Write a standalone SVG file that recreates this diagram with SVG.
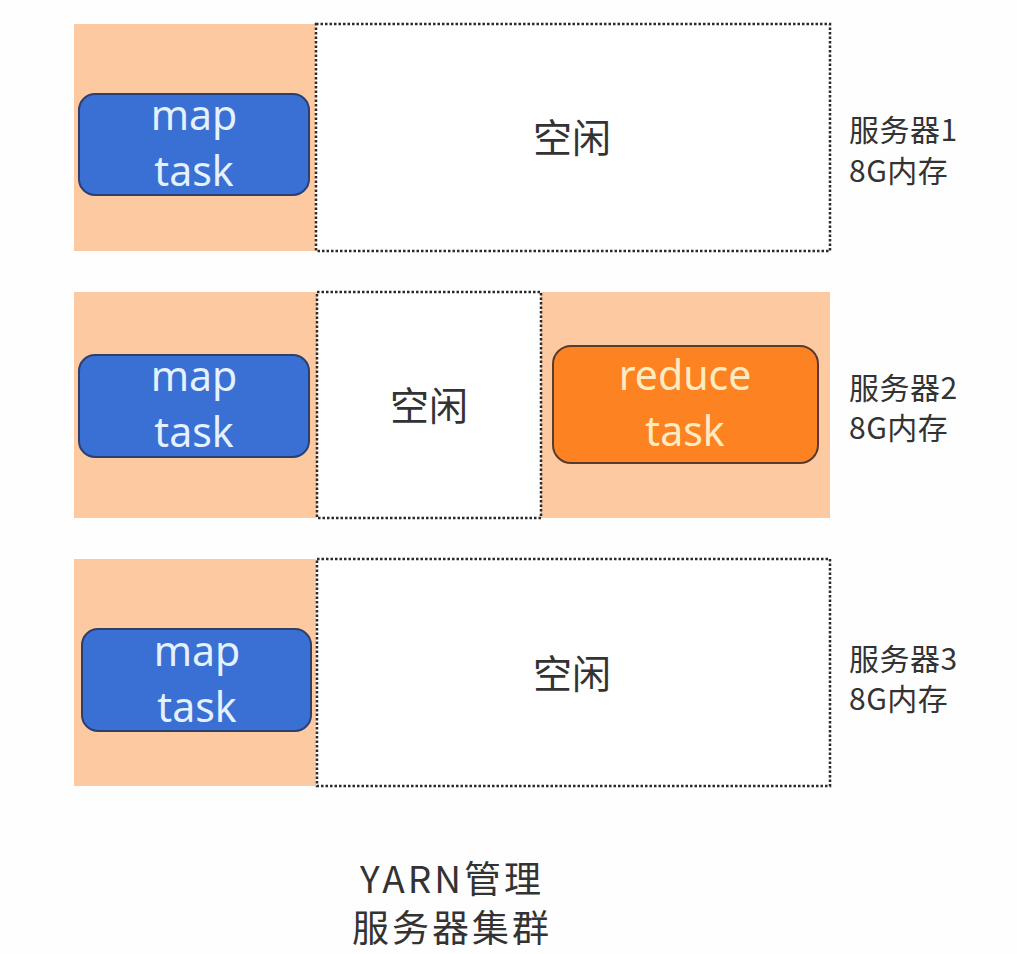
<svg xmlns="http://www.w3.org/2000/svg" width="1017" height="954" viewBox="0 0 1017 954">
<style>
.bg{fill:#fdc9a0}
.idle{fill:#ffffff;stroke:#2a2a2a;stroke-width:2.5;stroke-dasharray:2.5 2}
.map{fill:#3a6fd3;stroke:#2c3f6e;stroke-width:2}
.red{fill:#fd8222;stroke:#5a3a2c;stroke-width:2}
.tm{font-family:"Noto Sans","Noto Sans CJK SC",sans-serif;font-size:41px;fill:#e4f1ff;text-anchor:middle}
.tr{font-family:"Noto Sans","Noto Sans CJK SC",sans-serif;font-size:41px;fill:#fdebc2;text-anchor:middle}
.t{font-family:"Noto Sans CJK SC",sans-serif;fill:#333;}
.kx{font-size:39px;text-anchor:middle}
.lb{font-size:30px;letter-spacing:0.5px}
.bt{font-size:37px;letter-spacing:3px;text-anchor:middle}
</style>
<rect width="1017" height="954" fill="#fefefe"/>
<g id="server1">
<rect class="bg" x="74" y="24" width="241" height="227"/>
<rect class="idle" x="316" y="24" width="514" height="227"/>
<text class="t kx" x="572" y="152">空闲</text>
<g id="map1">
<rect class="map" x="79" y="94" width="230" height="101" rx="16"/>
<text class="tm" x="194" y="130">map</text>
<text class="tm" x="194" y="186">task</text>
</g>
<text class="t lb" x="849" y="141">服务器1</text>
<text class="t lb" x="849" y="182">8G内存</text>
</g>
<g id="server2">
<rect class="bg" x="74" y="292" width="756" height="226"/>
<rect class="idle" x="317" y="292" width="224" height="226"/>
<text class="t kx" x="429" y="420">空闲</text>
<g id="map2">
<rect class="map" x="79" y="355" width="230" height="102" rx="16"/>
<text class="tm" x="194" y="391">map</text>
<text class="tm" x="194" y="447">task</text>
</g>
<g id="reduce2">
<rect class="red" x="553" y="346" width="265" height="117" rx="18"/>
<text class="tr" x="685" y="390">reduce</text>
<text class="tr" x="685" y="446">task</text>
</g>
<text class="t lb" x="849" y="399">服务器2</text>
<text class="t lb" x="849" y="439">8G内存</text>
</g>
<g id="server3">
<rect class="bg" x="74" y="559" width="242" height="227"/>
<rect class="idle" x="317" y="559" width="513" height="227"/>
<text class="t kx" x="572" y="688">空闲</text>
<g id="map3">
<rect class="map" x="82" y="629" width="229" height="102" rx="16"/>
<text class="tm" x="197" y="666">map</text>
<text class="tm" x="197" y="722">task</text>
</g>
<text class="t lb" x="849" y="670">服务器3</text>
<text class="t lb" x="849" y="710">8G内存</text>
</g>
<g id="connectors"></g>
<g id="caption">
<text class="t bt" x="452" y="893">YARN管理</text>
<text class="t bt" x="452" y="942">服务器集群</text>
</g>
</svg>
